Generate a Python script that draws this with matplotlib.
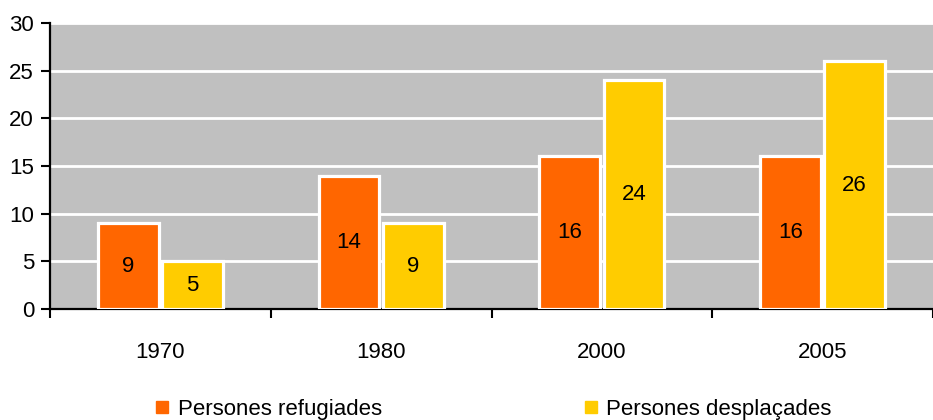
import matplotlib.pyplot as plt
import numpy as np
from matplotlib.lines import Line2D

# Data
years = ["1970", "1980", "2000", "2005"]
refugiades = [9, 14, 16, 16]
desplacades = [5, 9, 24, 26]
series_names = ["Persones refugiades", "Persones desplaçades"]

plt.rcParams['font.family'] = ['Liberation Sans', 'DejaVu Sans']

orange = '#FF6600'
yellow = '#FFCC00'

fig = plt.figure(figsize=(9.33, 4.2), dpi=100)
ax = fig.add_axes([50 / 933, 1 - 309 / 420, 1 - 50 / 933, (309 - 23) / 420])
ax.set_facecolor('#C0C0C0')

x = np.arange(len(years))
off = 0.1455
w = 0.275
b1 = ax.bar(x - off, refugiades, w, color=orange, edgecolor='white', linewidth=2.3, zorder=3)
b2 = ax.bar(x + off, desplacades, w, color=yellow, edgecolor='white', linewidth=2.3, zorder=3)
ax.bar_label(b1, label_type='center', fontsize=16)
ax.bar_label(b2, label_type='center', fontsize=16)

ax.set_ylim(0, 30)
ax.set_yticks(np.arange(0, 31, 5))
ax.set_xlim(-0.5, (933 - 50) / 223.5 - 0.5)
ax.set_xticks(x)
ax.set_xticklabels(years)
ax.set_xticks(np.arange(-0.5, 3.6, 1.0), minor=True)

ax.yaxis.grid(True, color='white', linewidth=2, zorder=0)
ax.set_axisbelow(True)
for s in ['top', 'right']:
    ax.spines[s].set_visible(False)
for s in ['left', 'bottom']:
    ax.spines[s].set_linewidth(1.6)
    ax.spines[s].set_color('black')

ax.tick_params(axis='y', length=6.5, width=1.5, pad=5, labelsize=16)
ax.tick_params(axis='x', which='major', length=0, pad=24, labelsize=16)
ax.tick_params(axis='x', which='minor', length=6.5, width=1.5)

handles = [
    Line2D([], [], marker='s', linestyle='none', markersize=8, color=orange),
    Line2D([], [], marker='s', linestyle='none', markersize=8, color=yellow),
]
fig.legend(handles, series_names, loc='lower left', bbox_to_anchor=(155.5 / 933, 0.5 / 420),
           ncol=2, frameon=False, fontsize=16, handlelength=0.6, handletextpad=0.4,
           columnspacing=9.1, borderpad=0, borderaxespad=0)

fig.savefig("out.png", dpi=100)
